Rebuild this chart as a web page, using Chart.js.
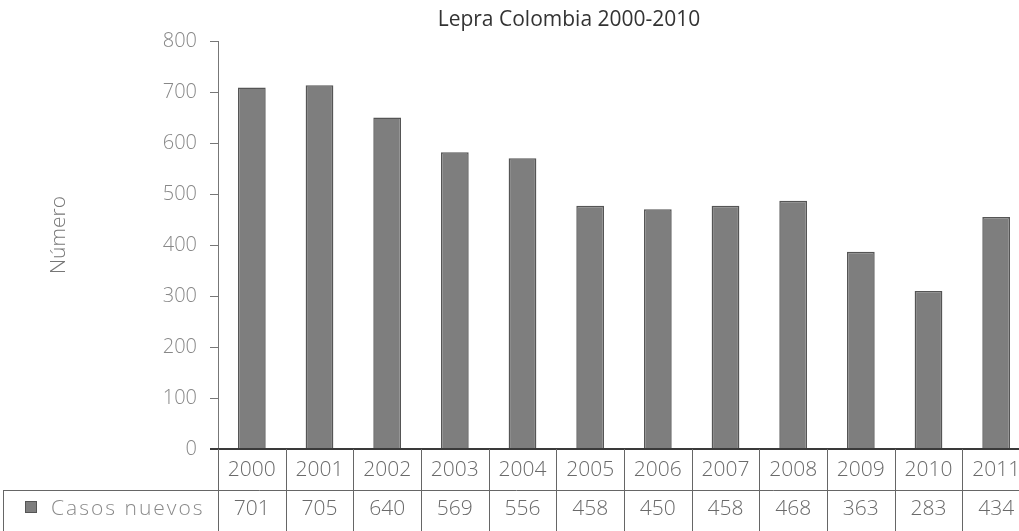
<!DOCTYPE html>
<html>
<head>
<meta charset="utf-8">
<script src="https://cdn.jsdelivr.net/npm/chart.js@4.4.1/dist/chart.umd.min.js"></script>
<style>
  html, body { margin: 0; padding: 0; background: #fff; overflow: hidden; }
  #wrap { width: 1034px; height: 531px; }
</style>
</head>
<body>
<div id="wrap"><canvas id="myChart"></canvas></div>
<script>
// years shown under the bars
const years = ['2000', '2001', '2002', '2003', '2004', '2005', '2006', '2007', '2008', '2009', '2010', '2011'];
// bar heights as drawn in the plot
const barHeights = [709, 713, 650, 582, 570, 477, 470, 477, 487, 387, 310, 455];
// numbers printed in the data table row
const casosNuevos = [701, 705, 640, 569, 556, 458, 450, 458, 468, 363, 283, 434];
const yTicks = [0, 100, 200, 300, 400, 500, 600, 700, 800];

const FONT = '"Open Sans", "Noto Sans", sans-serif';
const barFill = '#7e7e7e';
const barLine = '#555';

// title, axis title and the data table under the x axis
const dataTable = {
    id: 'dataTable',
    afterDraw(chart) {
        const ctx = chart.ctx;
        const area = chart.chartArea;
        const x = chart.scales.x;
        const colW = (area.right - area.left) / years.length;
        const rowMid = 490;
        const bottom = chart.height;

        ctx.save();
        ctx.textBaseline = 'middle';

        // chart title
        ctx.font = '21px ' + FONT;
        ctx.fillStyle = '#333';
        ctx.textAlign = 'center';
        ctx.fillText('Lepra Colombia 2000-2010', 569, 20);

        // y axis title
        ctx.save();
        ctx.translate(59, 235);
        ctx.rotate(-Math.PI / 2);
        ctx.font = '300 21px ' + FONT;
        ctx.fillStyle = '#777';
        ctx.fillText('Número', 0, 0);
        ctx.restore();

        // baseline
        ctx.strokeStyle = '#3a3a3a';
        ctx.lineWidth = 2;
        ctx.beginPath();
        ctx.moveTo(area.left - 8, area.bottom);
        ctx.lineTo(area.right, area.bottom);
        ctx.stroke();

        ctx.strokeStyle = '#666';
        ctx.lineWidth = 1;
        ctx.beginPath();
        for (let i = 0; i <= years.length; i++) {
            const cx = Math.round(area.left + i * colW) + 0.5;
            ctx.moveTo(cx, area.bottom);
            ctx.lineTo(cx, bottom);
        }
        ctx.moveTo(3, rowMid + 0.5);
        ctx.lineTo(area.right, rowMid + 0.5);
        ctx.moveTo(3.5, rowMid);
        ctx.lineTo(3.5, bottom);
        ctx.stroke();

        ctx.font = '300 21px ' + FONT;
        ctx.textAlign = 'center';
        ctx.fillStyle = '#6a6a6a';
        years.forEach(function(y, i) {
            const cx = x.getPixelForValue(i);
            ctx.fillText(y, cx, 470);
            ctx.fillText(String(casosNuevos[i]), cx, 509);
        });

        // legend key
        ctx.fillStyle = barFill;
        ctx.strokeStyle = barLine;
        ctx.fillRect(25, 501, 12, 12);
        ctx.strokeRect(25.5, 501.5, 11, 11);
        ctx.fillStyle = '#8a8a8a';
        ctx.textAlign = 'left';
        ctx.letterSpacing = '2px';
        ctx.fillText('Casos nuevos', 51, 509);
        ctx.restore();
    }
};

const ctx = document.getElementById('myChart').getContext('2d');
const myChart = new Chart(ctx, {
    type: 'bar',
    data: {
        labels: years,
        datasets: [{
            label: 'Casos nuevos',
            data: barHeights,
            backgroundColor: barFill,
            borderColor: barLine,
            borderWidth: 1.5,
            categoryPercentage: 1,
            barPercentage: 0.41
        }]
    },
    options: {
        responsive: true,
        maintainAspectRatio: false,
        animation: false,
        layout: { padding: { left: 0, right: 4, top: 41, bottom: 82 } },
        plugins: {
            legend: { display: false },
            tooltip: { enabled: false },
            title: { display: false }
        },
        scales: {
            x: {
                display: false,
                offset: true
            },
            y: {
                min: 0,
                max: 800,
                afterBuildTicks: function(scale) {
                    scale.ticks = yTicks.map(v => ({ value: v }));
                },
                afterFit: function(scale) {
                    scale.width = 218;
                },
                ticks: {
                    color: '#888',
                    padding: 13,
                    font: { family: FONT, size: 20, weight: 300 }
                },
                grid: {
                    drawOnChartArea: false,
                    drawTicks: true,
                    tickLength: 8,
                    color: '#777'
                },
                border: { display: true, color: '#777' }
            }
        }
    },
    plugins: [dataTable]
});
</script>
</body>
</html>
